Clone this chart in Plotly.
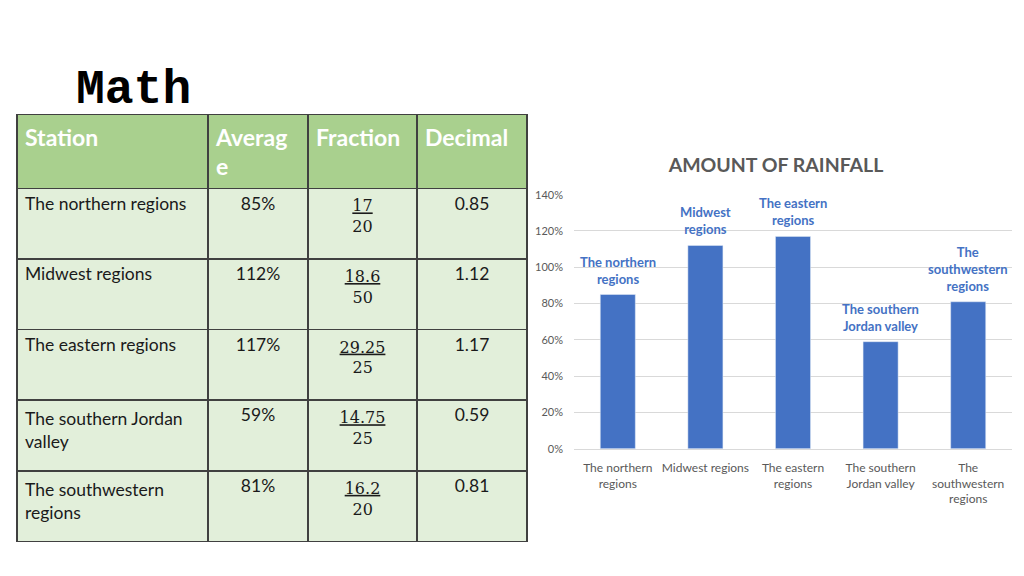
import plotly.graph_objects as go

# Data
stations = ["The northern regions", "Midwest regions", "The eastern regions",
            "The southern Jordan valley", "The southwestern regions"]
station_cells = ["The northern regions", "Midwest regions", "The eastern regions",
                 "The southern Jordan<br>valley", "The southwestern<br>regions"]
average_pct = [85, 112, 117, 59, 81]
numerators = ["17", "18.6", "29.25", "14.75", "16.2"]
denominators = ["20", "50", "25", "25", "20"]
decimals = [0.85, 1.12, 1.17, 0.59, 0.81]
header_labels = ["Station", "Averag<br>e", "Fraction", "Decimal"]

bar_labels = ["The northern<br>regions", "Midwest<br>regions", "The eastern<br>regions",
              "The southern<br>Jordan valley", "The<br>southwestern<br>regions"]
tick_labels = ["The northern<br>regions", "Midwest regions", "The eastern<br>regions",
               "The southern<br>Jordan valley", "The<br>southwestern<br>regions"]
y_ticks = [0, 0.2, 0.4, 0.6, 0.8, 1.0, 1.2, 1.4]

# Colours
HEADER_GREEN = "#A9D08E"
CELL_GREEN = "#E2EFDA"
BORDER = "#404040"
BAR_BLUE = "#4472C4"
GREY_TEXT = "#595959"
FONT = "Lato, Open Sans, sans-serif"


def fraction_text(num, den):
    # table lines are left aligned inside a cell, so pad the denominator
    # with typographic spaces (half digit / half dot) to centre it
    extra_digits = sum(c.isdigit() for c in num) - sum(c.isdigit() for c in den)
    extra_dots = num.count(".") - den.count(".")
    pad = "\u2007" * (extra_digits // 2) + "\u2008" * (extra_digits % 2) + "\u2006" * extra_dots
    return f"<u>{num}</u><br>{pad}{den}"


fig = go.Figure()

fig.add_trace(go.Table(
    domain=dict(x=[17 / 1024, 527 / 1024], y=[1 - 550 / 576, 1 - 110 / 576]),
    columnwidth=[191, 100, 109, 110],
    header=dict(
        values=[f"<b>{h}</b>" for h in header_labels],
        fill_color=HEADER_GREEN,
        line=dict(color=BORDER, width=1.5),
        align="left",
        height=73,
        font=dict(family=FONT, size=23, color="white"),
    ),
    cells=dict(
        values=[
            station_cells,
            [f"{v}%" for v in average_pct],
            [fraction_text(n, d) for n, d in zip(numerators, denominators)],
            [f"{v:.2f}" for v in decimals],
        ],
        fill_color=CELL_GREEN,
        line=dict(color=BORDER, width=1.5),
        align=["left", "center", "center", "center"],
        height=70.6,
        font=dict(family=[FONT, FONT, "DejaVu Serif, serif", FONT],
                  size=[17.5, 17.5, 16, 17.5], color="#1a1a1a"),
    ),
))

fig.add_trace(go.Bar(
    x=stations,
    y=decimals,
    marker=dict(color=BAR_BLUE),
    width=0.4,
    hoverinfo="x+y",
    showlegend=False,
))

# bar data labels
for name, val, lab in zip(stations, decimals, bar_labels):
    fig.add_annotation(
        x=name, y=val, text=f"<b>{lab}</b>", showarrow=False,
        yanchor="bottom", yshift=6, xref="x", yref="y",
        font=dict(family=FONT, size=13, color=BAR_BLUE),
    )

fig.add_annotation(
    x=74 / 1024, y=1 - 85 / 576, xref="paper", yref="paper",
    xanchor="left", yanchor="middle", showarrow=False,
    text="<b>Math</b>",
    font=dict(family="Courier New, Liberation Mono, monospace", size=48, color="black"),
)

fig.update_layout(
    title=dict(text="<b>AMOUNT OF RAINFALL</b>", x=776 / 1024, y=1 - 165 / 576,
               xanchor="center", yanchor="middle",
               font=dict(family=FONT, size=19.5, color=GREY_TEXT)),
    xaxis=dict(domain=[574 / 1024, 1012 / 1024], tickvals=stations, ticktext=tick_labels,
               tickfont=dict(family=FONT, size=12, color=GREY_TEXT),
               showline=True, linecolor="#D9D9D9", ticks="", ticklabelstandoff=8),
    yaxis=dict(domain=[1 - 452 / 576, 1 - 192 / 576], range=[0, 1.4], tickvals=y_ticks,
               tickformat=".0%", tickfont=dict(family=FONT, size=11, color=GREY_TEXT),
               gridcolor="#D9D9D9", zeroline=False, ticks="", ticklabelstandoff=10),
    bargap=0.6,
    width=1024, height=576,
    margin=dict(l=0, r=0, t=0, b=0),
    paper_bgcolor="white",
    plot_bgcolor="white",
    showlegend=False,
)

fig.write_html("out.html", config={"displayModeBar": False},
               post_script="document.body.style.margin='0';")
